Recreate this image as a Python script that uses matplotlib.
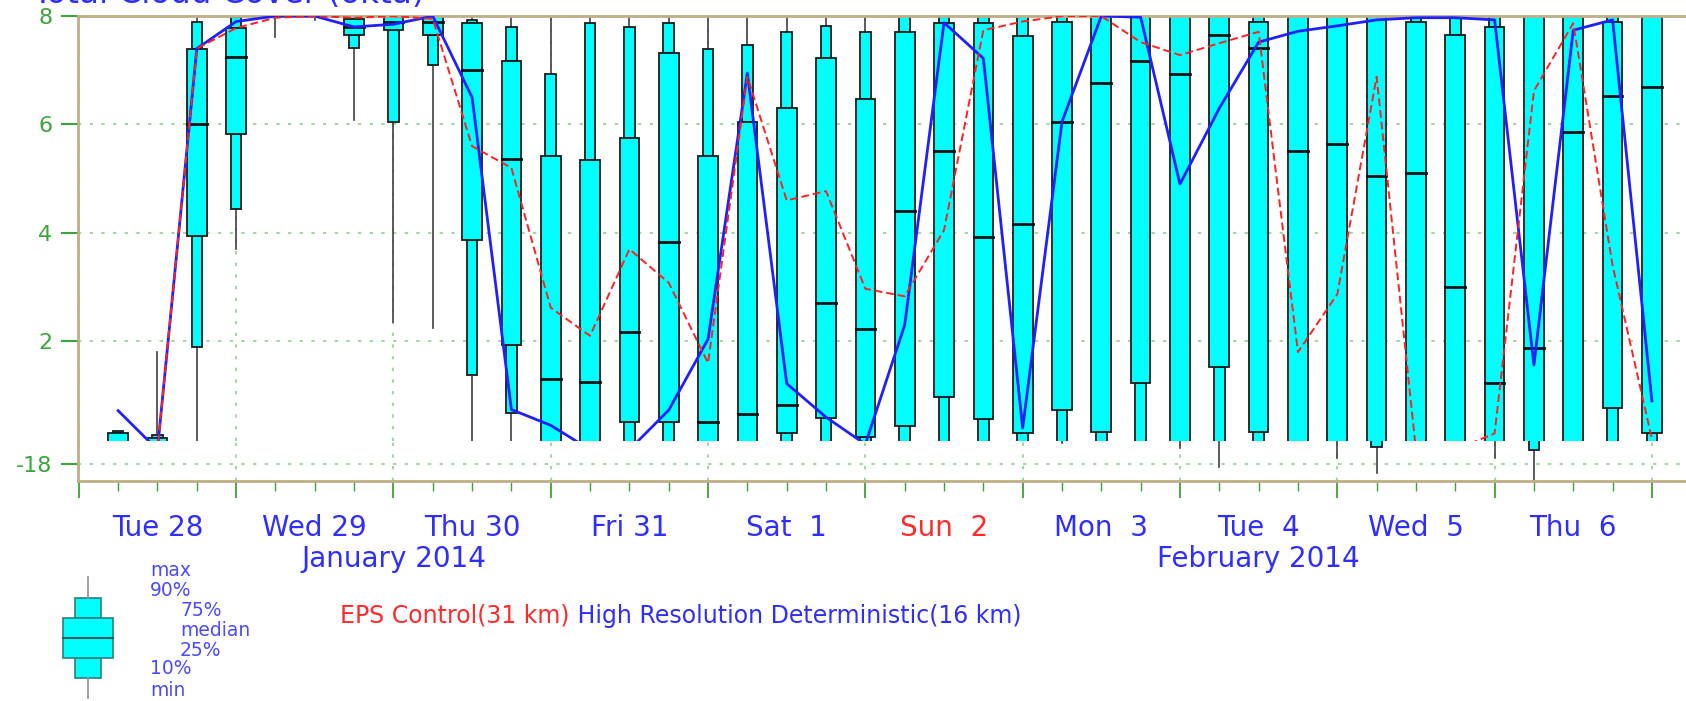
import numpy as np
import matplotlib.pyplot as plt
from matplotlib.patches import Rectangle
from matplotlib.ticker import MultipleLocator
from matplotlib.transforms import blended_transform_factory

plt.rcParams['axes.unicode_minus'] = False

# forecast steps, hours after Tue 28 Jan 2014 00 UTC
steps = np.arange(6, 241, 6)

# total cloud cover ensemble distribution (okta)
cc_min = [0, 0, 0, 3.7, 7.62, 7.92, 6.08, 2.35, 2.25, 0,
          0, 0, 0, 0, 0, 0, 0, 0, 0, 0,
          0, 0, 0, 0, 0, 0, 0, 0, 0, 0,
          0, 0, 0, 0, 0, 0, 0, 0, 0, 0]
cc_p10 = [0, 0, 1.9, 4.45, 7.98, 7.98, 7.42, 6.05, 7.1, 1.38,
          0.68, 0, 0, 0, 0, 0, 0, 0, 0, 0,
          0, 0, 0, 0, 0, 0, 0, 0, 0, 0,
          0, 0, 0, 0, 0, 0, 0, 0, 0, 0]
cc_p25 = [0, 0, 3.95, 5.82, 7.98, 8, 7.65, 7.75, 7.65, 3.87,
          1.94, 0, 0, 0.52, 0.52, 0, 0, 0.3, 0.59, 0.24,
          0.43, 0.97, 0.57, 0.3, 0.74, 0.33, 1.23, 0, 1.53, 0.33,
          0, 0, 0, 0, 0, 0, 0, 0, 0.77, 0.3]
cc_med = [0, 0, 6.0, 7.25, 8, 8, 7.8, 7.9, 7.9, 7.0,
          5.36, 1.3, 1.25, 2.18, 3.84, 0.52, 0.65, 0.82, 2.7, 2.23,
          4.4, 5.52, 3.93, 4.16, 6.05, 6.76, 7.17, 6.93, 7.65, 7.41,
          5.52, 5.64, 5.05, 5.1, 3.0, 1.23, 1.87, 5.87, 6.52, 6.7]
cc_p75 = [0.3, 0.22, 7.4, 7.78, 8, 8, 7.95, 7.98, 8, 7.87,
          7.17, 5.41, 5.35, 5.75, 7.32, 5.42, 6.05, 6.3, 7.22, 6.47,
          7.71, 7.88, 7.87, 7.63, 7.9, 8, 8, 8, 8, 7.9,
          8, 8, 8, 7.9, 7.65, 7.8, 8, 8, 7.9, 8]
cc_p90 = [0.35, 0.28, 7.9, 7.98, 8, 8, 8, 8, 8, 7.93,
          7.8, 6.93, 7.88, 7.8, 7.88, 7.4, 7.47, 7.71, 7.82, 7.7,
          8, 8, 8, 8, 8, 8, 8, 8, 8, 8,
          8, 8, 8, 8, 8, 8, 8, 8, 8, 8]
cc_max = [0.35, 1.8, 7.97, 8, 8, 8, 8, 8, 8, 8,
          8, 8, 8, 8, 8, 8, 8, 8, 8, 8,
          8, 8, 8, 8, 8, 8, 8, 8, 8, 8,
          8, 8, 8, 8, 8, 8, 8, 8, 8, 8]

eps_control = [0, 0, 7.4, 7.78, 7.97, 8, 7.97, 8, 7.95, 5.6,
               5.2, 2.62, 2.1, 3.7, 3.08, 1.6, 6.88, 4.6, 4.77, 2.97,
               2.83, 4.05, 7.74, 7.9, 8, 8, 7.52, 7.28, 7.5, 7.71,
               1.8, 2.87, 6.88, 0, 0, 0.3, 6.62, 7.87, 3.4, 0.2]
hres = [0.72, 0, 7.4, 7.9, 8, 8, 7.8, 7.85, 8, 6.5,
        0.74, 0.45, 0, 0, 0.73, 2.04, 6.95, 1.22, 0.6, 0.1,
        2.3, 7.88, 7.22, 0.4, 6.05, 8, 7.98, 4.9, 6.3, 7.52,
        7.72, 7.82, 7.93, 7.97, 7.97, 7.93, 1.56, 7.74, 7.93, 0.9]

# strip below the cloud panel: only the lowest members reach into it
strip_steps = [150, 168, 174, 192, 198, 216, 222]
strip_p10 = [-16.5, -16.5, -16.5, -16.5, -17.17, -16.5, -17.32]
strip_min = [-16.96, -17.2, -18.17, -17.72, -18.47, -17.72, -18.82]

day_labels = ['Tue 28', 'Wed 29', 'Thu 30', 'Fri 31', 'Sat  1',
              'Sun  2', 'Mon  3', 'Tue  4', 'Wed  5', 'Thu  6']
day_colors = ['#2e2eff'] * 5 + ['#ff2a2a'] + ['#2e2eff'] * 4
month_labels = ['January 2014', 'February 2014']
month_spans = [(0, 96), (96, 264)]

key_labels = ['max', '90%', '75%', 'median', '25%', '10%', 'min']

BLUE = '#2e2eff'
RED = '#ff2a2a'
GREEN = '#3aa53a'
TAN = '#bfae86'
GRID = '#8fd08f'
CYAN = '#00ffff'

W_WIDE = 3.0
W_NARROW = 1.6


def draw_box(ax, x, lo, p10, p25, med, p75, p90, hi):
    ax.plot([x, x], [lo, p10], color='#404040', lw=1.2, zorder=2)
    ax.plot([x, x], [p90, hi], color='#404040', lw=1.2, zorder=2)
    for y0, y1 in [(p10, p25), (p75, p90)]:
        if y1 > y0:
            ax.add_patch(Rectangle((x - W_NARROW / 2, y0), W_NARROW, y1 - y0,
                                   facecolor=CYAN, edgecolor='#1a1a1a',
                                   lw=1.3, zorder=2))
    if p75 > p25:
        ax.add_patch(Rectangle((x - W_WIDE / 2, p25), W_WIDE, p75 - p25,
                               facecolor=CYAN, edgecolor='#1a1a1a',
                               lw=1.3, zorder=2))
    ax.plot([x - W_WIDE / 2, x + W_WIDE / 2], [med, med], color='#111111',
            lw=2, zorder=2.5)


fig = plt.figure(figsize=(16.86, 7.01), dpi=100)

left = 77.5 / 1686
ax = fig.add_axes([left, 1 - 440.7 / 701, 1 - left, (440.7 - 16.1) / 701])
ax_low = fig.add_axes([left, 1 - 480.7 / 701, 1 - left, 40 / 701], sharex=ax)

for i, x in enumerate(steps):
    draw_box(ax, x, cc_min[i], cc_p10[i], cc_p25[i], cc_med[i],
             cc_p75[i], cc_p90[i], cc_max[i])

ax.plot(steps, hres, color='#2020ff', lw=2, zorder=3)
ax.plot(steps, eps_control, color='#ff2020', lw=1.4, ls=(0, (4, 2)), zorder=3.5)

for x, p10, lo in zip(strip_steps, strip_p10, strip_min):
    ax_low.plot([x, x], [lo, p10], color='#404040', lw=1.2, zorder=2)
    ax_low.add_patch(Rectangle((x - W_NARROW / 2, p10), W_NARROW, 2,
                               facecolor=CYAN, edgecolor='#1a1a1a',
                               lw=1.3, zorder=2))

ax.set_xlim(-0.2, 245.2)
ax.set_ylim(0.166, 8)
ax_low.set_ylim(-18.85, -16.85)

grid_kw = dict(color=GRID, lw=1.2, ls=(0, (2, 5)))
for a in (ax, ax_low):
    a.xaxis.set_major_locator(MultipleLocator(24))
    a.xaxis.set_minor_locator(MultipleLocator(6))
    a.grid(True, which='major', **grid_kw)
    a.set_axisbelow(True)
    a.tick_params(axis='y', colors=GREEN, labelsize=16, length=12,
                  width=1.5, pad=6)
    for s in a.spines.values():
        s.set_color(TAN)
        s.set_linewidth(2)
    a.spines['right'].set_visible(False)

ax.set_yticks([2, 4, 6, 8])
ax.spines['bottom'].set_visible(False)
ax.tick_params(axis='x', which='both', bottom=False, labelbottom=False)

ax_low.set_yticks([-18])
ax_low.spines['top'].set_visible(False)
ax_low.tick_params(axis='x', which='major', colors=GREEN, length=12,
                   width=1.3, labelbottom=False)
ax_low.tick_params(axis='x', which='minor', colors=GREEN, length=7,
                   width=1)

# date labels under the time axis
date_tr = blended_transform_factory(ax_low.transData, fig.transFigure)
for i, (lab, col) in enumerate(zip(day_labels, day_colors)):
    ax_low.text(12 + 24 * i, 1 - 528 / 701, lab, color=col, fontsize=20,
                ha='center', va='center', transform=date_tr)
for lab, (t0, t1) in zip(month_labels, month_spans):
    ax_low.text((t0 + t1) / 2, 1 - 559 / 701, lab, color=BLUE, fontsize=20,
                ha='center', va='center', transform=date_tr)

# page layer in pixel coordinates for title and key
bg = fig.add_axes([0, 0, 1, 1], zorder=-1)
bg.set_xlim(0, 1686)
bg.set_ylim(701, 0)
bg.axis('off')

bg.text(32, 3, 'Total Cloud Cover (okta)', color=BLUE, fontsize=23.5,
        va='baseline', ha='left')

# box key
kx = 88
bg.plot([kx, kx], [577, 598], color='#909090', lw=1.2)
bg.plot([kx, kx], [678, 698], color='#909090', lw=1.2)
bg.add_patch(Rectangle((kx - 13, 598), 26, 20, facecolor=CYAN,
                       edgecolor='#2a7f7f', lw=1.2))
bg.add_patch(Rectangle((kx - 13, 658), 26, 20, facecolor=CYAN,
                       edgecolor='#2a7f7f', lw=1.2))
bg.add_patch(Rectangle((kx - 25, 618), 50, 40, facecolor=CYAN,
                       edgecolor='#2a7f7f', lw=1.2))
bg.plot([kx - 25, kx + 25], [638, 638], color='#2a5f5f', lw=1.5)

key_x = [150, 150, 180, 180, 180, 150, 150]
key_y = [570, 590, 611, 631, 651, 669, 690]
for lab, x, y in zip(key_labels, key_x, key_y):
    bg.text(x, y, lab, color='#4a4aff', fontsize=13.5, ha='left',
            va='center')

t_eps = bg.text(340, 616, 'EPS Control(31 km)', color=RED, fontsize=17,
                ha='left', va='center')
bg.annotate(' High Resolution Deterministic(16 km)', xy=(1, 0.5),
            xycoords=t_eps, color=BLUE, fontsize=17, ha='left', va='center')

fig.savefig('out.png', dpi=100)
